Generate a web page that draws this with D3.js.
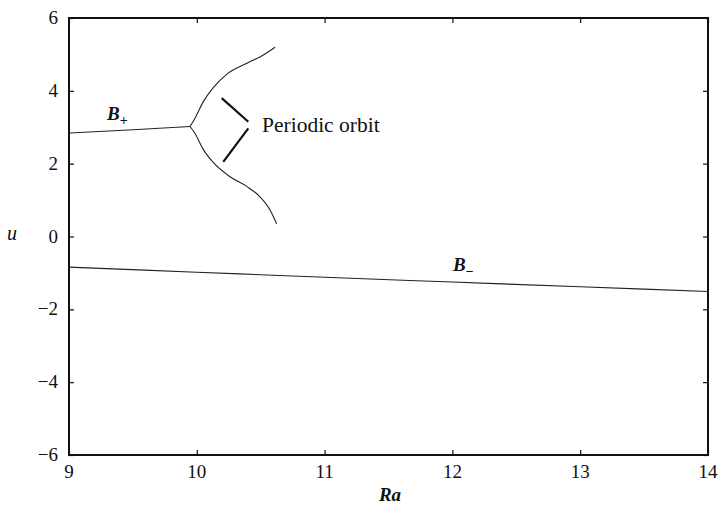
<!DOCTYPE html>
<html>
<head>
<meta charset="utf-8">
<script src="https://cdn.jsdelivr.net/npm/d3@7"></script>
<style>
  body { margin: 0; background: #fff; }
  svg text { font-family: "Liberation Serif", "Times New Roman", "DejaVu Serif", serif; fill: #111; }
</style>
</head>
<body>
<script>
// data
const xTicks = [9, 10, 11, 12, 13, 14];
const yTicks = [-6, -4, -2, 0, 2, 4, 6];
const bPlus = [[9, 2.84], [9.5, 2.93], [9.947, 3.02]];
const orbitUpper = [[9.947, 3.02], [9.986, 3.25], [10.049, 3.69], [10.127, 4.08], [10.236, 4.46],
  [10.393, 4.76], [10.494, 4.93], [10.573, 5.1], [10.612, 5.2]];
const orbitLower = [[9.947, 3.02], [9.986, 2.83], [10.049, 2.4], [10.127, 2.04], [10.26, 1.64],
  [10.393, 1.37], [10.494, 1.09], [10.573, 0.73], [10.625, 0.35]];
const bMinus = [[9, -0.84], [10, -0.98], [11, -1.12], [12, -1.25], [13, -1.38], [14, -1.51]];
const bracketTop = [[10.195, 3.80], [10.403, 3.15]];
const bracketBottom = [[10.403, 2.97], [10.207, 2.05]];

const width = 721, height = 512;
const margin = { left: 69, right: 13, top: 18, bottom: 57 };

const svg = d3.select("body").append("svg")
  .attr("width", width).attr("height", height);

const x = d3.scaleLinear().domain([9, 14]).range([margin.left, width - margin.right]);
const y = d3.scaleLinear().domain([-6, 6]).range([height - margin.bottom, margin.top]);

// ticks inward on all sides
const tickLen = 5;
const noDomain = g => g.select(".domain").remove();
svg.append("g").attr("transform", `translate(0,${y(-6)})`)
  .call(d3.axisTop(x).tickValues(xTicks).tickSize(tickLen).tickFormat("")).call(noDomain);
svg.append("g").attr("transform", `translate(0,${y(6)})`)
  .call(d3.axisBottom(x).tickValues(xTicks).tickSize(tickLen).tickFormat("")).call(noDomain);
svg.append("g").attr("transform", `translate(${x(9)},0)`)
  .call(d3.axisRight(y).tickValues(yTicks).tickSize(tickLen).tickFormat("")).call(noDomain);
svg.append("g").attr("transform", `translate(${x(14)},0)`)
  .call(d3.axisLeft(y).tickValues(yTicks).tickSize(tickLen).tickFormat("")).call(noDomain);
svg.selectAll(".tick line").attr("stroke", "#111").attr("stroke-width", 1.2);

// frame
svg.append("rect")
  .attr("x", x(9)).attr("y", y(6))
  .attr("width", x(14) - x(9)).attr("height", y(-6) - y(6))
  .attr("fill", "none").attr("stroke", "#111").attr("stroke-width", 2);

// tick labels
svg.selectAll("text.xl").data(xTicks).join("text")
  .attr("class", "xl")
  .attr("x", d => x(d)).attr("y", y(-6) + 23)
  .attr("text-anchor", "middle").attr("font-size", 19)
  .text(d => d);
svg.selectAll("text.yl").data(yTicks).join("text")
  .attr("class", "yl")
  .attr("x", x(9) - 11).attr("y", d => y(d) + 6)
  .attr("text-anchor", "end").attr("font-size", 19)
  .text(d => d < 0 ? "\u2212" + Math.abs(d) : d);

// axis titles
svg.append("text").attr("x", 390).attr("y", height - 11)
  .attr("text-anchor", "middle").attr("font-size", 19)
  .attr("font-style", "italic").attr("font-weight", "bold").text("Ra");
svg.append("text").attr("x", 12).attr("y", y(0) + 3)
  .attr("text-anchor", "middle").attr("font-size", 20)
  .attr("font-style", "italic").text("u");

// curves
const line = d3.line().x(d => x(d[0])).y(d => y(d[1])).curve(d3.curveMonotoneX);
[bPlus, orbitUpper, orbitLower, bMinus].forEach(d => {
  svg.append("path").datum(d).attr("d", line)
    .attr("fill", "none").attr("stroke", "#222").attr("stroke-width", 1.1);
});

// bracket pointing to the orbit
const straight = d3.line().x(d => x(d[0])).y(d => y(d[1]));
[bracketTop, bracketBottom].forEach(d => {
  svg.append("path").datum(d).attr("d", straight)
    .attr("stroke", "#111").attr("stroke-width", 2.2).attr("fill", "none");
});
svg.append("text").attr("x", 262).attr("y", 132)
  .attr("font-size", 21.5).text("Periodic orbit");

// branch labels
const bp = svg.append("text").attr("x", 107).attr("y", 120)
  .attr("font-size", 19).attr("font-style", "italic").attr("font-weight", "bold");
bp.append("tspan").text("B");
bp.append("tspan").attr("dy", 5).attr("font-size", 14).attr("font-style", "normal").text("+");
const bm = svg.append("text").attr("x", 453).attr("y", 271)
  .attr("font-size", 19).attr("font-style", "italic").attr("font-weight", "bold");
bm.append("tspan").text("B");
bm.append("tspan").attr("dy", 5).attr("font-size", 14).attr("font-style", "normal").text("\u2212");
</script>
</body>
</html>
